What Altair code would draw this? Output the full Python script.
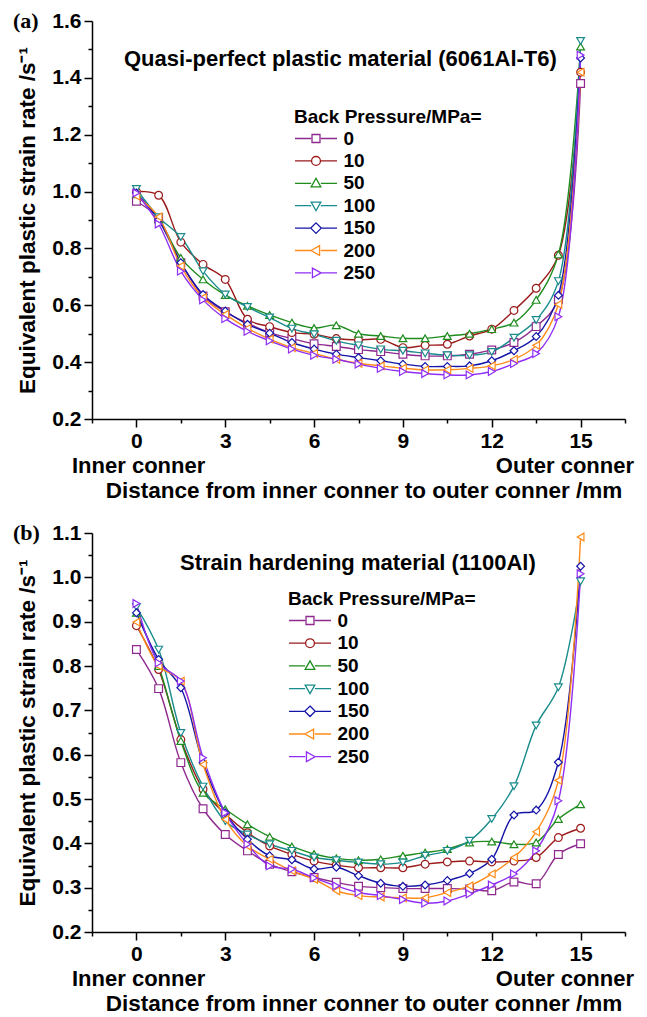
import altair as alt
import pandas as pd

# ---------------- data ----------------
x_pos = [0, 0.75, 1.5, 2.25, 3, 3.75, 4.5, 5.25, 6, 6.75, 7.5,
         8.25, 9, 9.75, 10.5, 11.25, 12, 12.75, 13.5, 14.25, 15]
series_names = ["0", "10", "50", "100", "150", "200", "250"]
series_colors = ["#8E2A8E", "#9B1B1B", "#1E8C1E", "#1A8C8C", "#1414A8", "#FF8C1A", "#8F2EF5"]
series_shapes = ["square", "circle", "triangle-up", "triangle-down", "diamond",
                 "triangle-left", "triangle-right"]

# (a) quasi-perfect plastic material
a_0 = [0.966, 0.905, 0.75, 0.633, 0.577, 0.537, 0.504, 0.483, 0.465, 0.455, 0.444,
       0.437, 0.428, 0.422, 0.422, 0.428, 0.443, 0.469, 0.525, 0.62, 1.38]
a_10 = [1.0, 0.987, 0.822, 0.744, 0.691, 0.551, 0.525, 0.504, 0.498, 0.483, 0.478,
        0.48, 0.451, 0.459, 0.463, 0.492, 0.516, 0.582, 0.66, 0.776, 1.42]
a_50 = [0.99, 0.902, 0.767, 0.691, 0.636, 0.598, 0.566, 0.539, 0.52, 0.53, 0.5,
        0.492, 0.484, 0.484, 0.492, 0.5, 0.516, 0.539, 0.619, 0.779, 1.51]
a_100 = [1.009, 0.91, 0.84, 0.72, 0.638, 0.594, 0.557, 0.518, 0.498, 0.475, 0.459,
         0.445, 0.44, 0.431, 0.424, 0.424, 0.436, 0.486, 0.548, 0.685, 1.53]
a_150 = [0.995, 0.9, 0.75, 0.638, 0.58, 0.533, 0.502, 0.469, 0.446, 0.428, 0.416,
         0.405, 0.393, 0.385, 0.385, 0.387, 0.405, 0.44, 0.49, 0.635, 1.47]
a_200 = [0.984, 0.911, 0.738, 0.627, 0.568, 0.519, 0.481, 0.451, 0.431, 0.41, 0.396,
         0.387, 0.379, 0.373, 0.373, 0.378, 0.387, 0.41, 0.459, 0.603, 1.42]
a_250 = [0.995, 0.886, 0.72, 0.619, 0.553, 0.508, 0.475, 0.446, 0.424, 0.41, 0.393,
         0.378, 0.367, 0.36, 0.355, 0.355, 0.367, 0.395, 0.43, 0.56, 1.48]

# (b) strain hardening material
b_0 = [0.837, 0.749, 0.582, 0.478, 0.42, 0.383, 0.353, 0.336, 0.323, 0.312, 0.303,
       0.3, 0.298, 0.298, 0.298, 0.297, 0.293, 0.313, 0.309, 0.375, 0.399]
b_10 = [0.891, 0.792, 0.634, 0.522, 0.466, 0.424, 0.394, 0.375, 0.36, 0.351, 0.345,
        0.345, 0.345, 0.353, 0.358, 0.36, 0.358, 0.36, 0.368, 0.413, 0.434]
b_50 = [0.92, 0.8, 0.631, 0.514, 0.477, 0.443, 0.415, 0.393, 0.376, 0.366, 0.362,
        0.364, 0.372, 0.379, 0.387, 0.402, 0.404, 0.398, 0.402, 0.455, 0.488]
b_100 = [0.933, 0.837, 0.649, 0.528, 0.45, 0.42, 0.398, 0.383, 0.368, 0.362, 0.357,
         0.353, 0.357, 0.372, 0.383, 0.406, 0.455, 0.529, 0.666, 0.752, 0.991]
b_150 = [0.92, 0.815, 0.751, 0.582, 0.469, 0.409, 0.372, 0.363, 0.342, 0.346, 0.327,
         0.31, 0.303, 0.306, 0.316, 0.332, 0.364, 0.464, 0.475, 0.583, 1.025]
b_200 = [0.899, 0.8, 0.766, 0.578, 0.454, 0.394, 0.364, 0.338, 0.319, 0.293, 0.282,
         0.279, 0.277, 0.277, 0.289, 0.304, 0.331, 0.368, 0.426, 0.542, 1.091]
b_250 = [0.941, 0.807, 0.766, 0.593, 0.469, 0.398, 0.349, 0.342, 0.322, 0.304, 0.289,
         0.282, 0.273, 0.265, 0.27, 0.286, 0.306, 0.331, 0.383, 0.496, 1.008]

x_ticks = [0, 3, 6, 9, 12, 15]
x_minor = [-1.5, 1.5, 4.5, 7.5, 10.5, 13.5, 16.5]
a_y_ticks = [0.2, 0.4, 0.6, 0.8, 1.0, 1.2, 1.4, 1.6]
a_y_minor = [0.3, 0.5, 0.7, 0.9, 1.1, 1.3, 1.5]
b_y_ticks = [0.2, 0.3, 0.4, 0.5, 0.6, 0.7, 0.8, 0.9, 1.0, 1.1]
b_y_minor = [0.25, 0.35, 0.45, 0.55, 0.65, 0.75, 0.85, 0.95, 1.05]

panel_tags = ["(a)", "(b)"]
panel_titles = ["Quasi-perfect plastic material (6061Al-T6)", "Strain hardening material (1100Al)"]
legend_title = "Back Pressure/MPa="
x_title = "Distance from inner conner to outer conner /mm"
y_title = "Equivalent plastic strain rate /s\u207b\u00b9"
end_labels = ["Inner conner", "Outer conner"]

FONT = "Liberation Sans"
W = 533

# legend symbols: line segment (x from -2 to 2) with an open marker in the middle
seg = "M-2,0H-0.46M0.46,0H2"
legend_paths = [
    seg + "M-0.38,-0.38H0.38V0.38H-0.38Z",
    seg + "M-0.42,0A0.42,0.42 0 1,0 0.42,0A0.42,0.42 0 1,0 -0.42,0Z",
    seg + "M0,-0.48L0.46,0.34L-0.46,0.34Z",
    seg + "M0,0.48L0.46,-0.34L-0.46,-0.34Z",
    seg + "M0,-0.5L0.5,0L0,0.5L-0.5,0Z",
    seg + "M-0.48,0L0.34,-0.46L0.34,0.46Z",
    seg + "M0.48,0L-0.34,-0.46L-0.34,0.46Z",
]


def make_df(cols):
    rows = []
    for name, vals in zip(series_names, cols):
        for xv, yv in zip(x_pos, vals):
            rows.append({"x": xv, "v": yv, "series": name, "series_l": name})
    return pd.DataFrame(rows)


def text_layer(t, x, y, align="left", font=FONT, size=22):
    return alt.Chart(pd.DataFrame({"t": [t]})).mark_text(
        font=font, fontSize=size, fontWeight="bold", align=align, baseline="middle",
        color="black").encode(text="t:N", x=alt.value(x), y=alt.value(y))


def panel(df, tag, title, ydom, yticks, yminor, H, leg_x, leg_y, title_x, title_y, row_pad):
    xs = alt.Scale(domain=[-1.5, 16.5], nice=False, zero=False)
    ys = alt.Scale(domain=ydom, nice=False, zero=False)
    x_axis = alt.Axis(values=x_ticks, orient="bottom", tickSize=8, labelPadding=3,
                      labelFontSize=21, labelFont=FONT, labelFontWeight="bold",
                      title=x_title, titleFont=FONT, titleFontSize=22.5, titleFontWeight="bold",
                      titleX=W / 2 + 5, titleY=71, titleBaseline="middle",
                      grid=False, domainWidth=1.5, tickWidth=1.5)
    y_axis = alt.Axis(values=yticks, orient="left", format=".1f", tickSize=8, labelPadding=3,
                      labelFontSize=21, labelFont=FONT, labelFontWeight="bold",
                      title=y_title, titleFont=FONT, titleFontSize=22.5, titleFontWeight="bold",
                      titleX=-65, titleY=H / 2, titleBaseline="middle", titleAngle=-90,
                      grid=False, domainWidth=1.5, tickWidth=1.5)
    x_enc = alt.X("x:Q", scale=xs, axis=x_axis)
    y_enc = alt.Y("v:Q", scale=ys, axis=y_axis)
    stroke_main = alt.Stroke("series:N", scale=alt.Scale(domain=series_names, range=series_colors),
                             legend=None)
    base = alt.Chart(df)
    lines = base.mark_line(interpolate="catmull-rom", strokeWidth=1.4).encode(
        x=x_enc, y=y_enc, stroke=stroke_main, order="x:Q")
    pts = base.mark_point(filled=True, fill="white", size=60, strokeWidth=1.2, opacity=1).encode(
        x=x_enc, y=y_enc, stroke=stroke_main,
        shape=alt.Shape("series:N", scale=alt.Scale(domain=series_names, range=series_shapes),
                        legend=None))
    data_layer = alt.layer(lines, pts)

    leg = alt.Legend(orient="none", legendX=leg_x, legendY=leg_y, title=legend_title,
                     titleFont=FONT, titleFontSize=19, titleFontWeight="bold", titleColor="black",
                     labelFont=FONT, labelFontSize=19, labelFontWeight="bold", labelColor="black",
                     symbolSize=441, symbolStrokeWidth=1.3, symbolOpacity=1,
                     symbolOffset=10.5, symbolFillColor="white", rowPadding=row_pad,
                     titlePadding=0, labelOffset=16, padding=0, titleLimit=400)
    minor_x = alt.X("x:Q", scale=xs, axis=alt.Axis(values=x_minor, orient="bottom", labels=False,
                                                  tickSize=4, domain=False, title=None,
                                                  grid=False, tickWidth=1.5))
    minor_y = alt.Y("v:Q", scale=ys, axis=alt.Axis(values=yminor, orient="left", labels=False,
                                                  tickSize=4, domain=False, title=None,
                                                  grid=False, tickWidth=1.5))
    legend_layer = base.mark_point(filled=True, fill="white", opacity=0).encode(
        x=minor_x, y=minor_y,
        stroke=alt.Stroke("series_l:N", scale=alt.Scale(domain=series_names, range=series_colors),
                          legend=leg),
        shape=alt.Shape("series_l:N", scale=alt.Scale(domain=series_names, range=legend_paths),
                        legend=leg))

    tag_mark = text_layer(tag, -79, 0, font="Liberation Serif")
    title_mark = text_layer(title, title_x, title_y)
    inner = text_layer(end_labels[0], -20, H + 47)
    outer = text_layer(end_labels[1], 542, H + 47, align="right")

    return alt.layer(data_layer, legend_layer, tag_mark, title_mark, inner, outer).resolve_axis(
        x="independent", y="independent").resolve_scale(
        stroke="independent", shape="independent").properties(width=W, height=H)


df_a = make_df([a_0, a_10, a_50, a_100, a_150, a_200, a_250])
df_b = make_df([b_0, b_10, b_50, b_100, b_150, b_200, b_250])

pa = panel(df_a, panel_tags[0], panel_titles[0], [0.2, 1.6], a_y_ticks, a_y_minor, 398,
           202, 87, 32, 38, 0.4)
pb = panel(df_b, panel_tags[1], panel_titles[1], [0.2, 1.1], b_y_ticks, b_y_minor, 399,
           196, 57, 88, 30, 0.7)

chart = alt.vconcat(pa, pb, spacing=114, bounds="flush").properties(
    padding={"left": 5, "top": 2, "right": 5, "bottom": 2}, background="white"
).configure_view(stroke=None).configure_axis(
    domainColor="black", tickColor="black", labelColor="black", titleColor="black"
)

chart.save("out.html", embed_options={"renderer": "svg", "actions": False})
